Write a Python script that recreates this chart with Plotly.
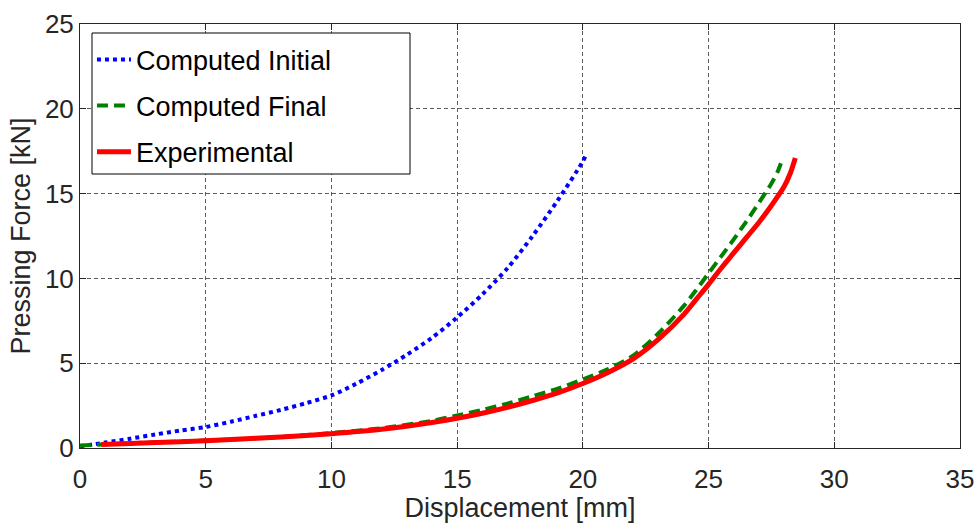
import plotly.graph_objects as go

# Force–displacement curves (displacement in mm, force in kN)
initial_disp = [0, 1, 2, 3, 4, 5, 6, 7, 8, 9, 10, 11, 12, 13, 14, 15,
                16, 17, 18, 19, 20, 20.1]
initial_force = [0.1, 0.32, 0.55, 0.8, 1.03, 1.24, 1.55, 1.9, 2.25, 2.65, 3.1,
                 3.8, 4.6, 5.5, 6.5, 7.7, 9.05, 10.6, 12.5, 14.6, 16.9, 17.2]

final_disp = [0, 1, 2, 4, 6, 8, 10, 12, 14, 15, 16, 17, 18, 19, 20, 21, 22,
              23, 24, 24.5, 25, 25.5, 26, 26.5, 27, 27.5, 27.75, 27.95]
final_force = [0.15, 0.22, 0.28, 0.38, 0.5, 0.66, 0.88, 1.17, 1.6, 1.92, 2.25,
               2.62, 3.05, 3.5, 4.05, 4.65, 5.45, 6.75, 8.35, 9.3, 10.3, 11.3,
               12.3, 13.35, 14.45, 15.6, 16.3, 17.1]

exp_disp = [0.85, 2, 4, 6, 8, 10, 12, 14, 15, 16, 17, 18, 19, 20, 21, 22, 23,
            24, 24.5, 25, 25.5, 26, 26.5, 27, 27.5, 28, 28.25, 28.45]
exp_force = [0.2, 0.27, 0.37, 0.5, 0.65, 0.84, 1.1, 1.5, 1.75, 2.05, 2.4, 2.8,
             3.25, 3.8, 4.45, 5.25, 6.4, 7.85, 8.75, 9.65, 10.6, 11.5, 12.4,
             13.3, 14.3, 15.4, 16.2, 17.1]

x_ticks = [0, 5, 10, 15, 20, 25, 30, 35]
y_ticks = [0, 5, 10, 15, 20, 25]

FONT = "Arial, Liberation Sans, Helvetica, sans-serif"
AXIS_COLOR = "#262626"
GRID_COLOR = "rgba(38,38,38,0.75)"

fig = go.Figure()
fig.add_trace(go.Scatter(
    x=initial_disp, y=initial_force, mode="lines", name="Computed Initial",
    legendgroup="a",
    line=dict(color="#0000ff", width=4, dash="4px,4px", shape="spline",
              smoothing=0.8)))
fig.add_trace(go.Scatter(
    x=final_disp, y=final_force, mode="lines", name="Computed Final",
    legendgroup="b",
    line=dict(color="#008000", width=4, dash="11px,6px", shape="spline",
              smoothing=0.8)))
fig.add_trace(go.Scatter(
    x=exp_disp, y=exp_force, mode="lines", name="Experimental",
    legendgroup="c",
    line=dict(color="#ff0000", width=5, shape="spline", smoothing=0.8)))

axis_common = dict(
    showline=True, linecolor=AXIS_COLOR, linewidth=1, mirror="ticks",
    ticks="inside", ticklen=6, tickcolor=AXIS_COLOR, tickwidth=1,
    showgrid=True, gridcolor=GRID_COLOR, gridwidth=1, griddash="4px,3px",
    zeroline=False, automargin=False,
    tickfont=dict(family=FONT, size=26, color=AXIS_COLOR),
)

fig.update_xaxes(
    range=[0, 35], tickmode="array", tickvals=x_ticks,
    ticktext=[str(v) for v in x_ticks], ticklabelstandoff=8,
    title=dict(text="Displacement [mm]", standoff=14,
               font=dict(family=FONT, size=27, color=AXIS_COLOR)),
    **axis_common)
fig.update_yaxes(
    range=[0, 25], tickmode="array", tickvals=y_ticks,
    ticktext=[str(v) for v in y_ticks],
    title=dict(text="Pressing Force [kN]", standoff=6,
               font=dict(family=FONT, size=27, color=AXIS_COLOR)),
    **axis_common)

# Legend frame (drawn as a shape so the box can be wider than its entries)
fig.add_shape(
    type="rect", xref="paper", yref="paper",
    x0=(92 - 80) / 880, x1=(410 - 80) / 880,
    y0=(448 - 174) / 424, y1=(448 - 33) / 424,
    line=dict(color="black", width=1), fillcolor="white", layer="above")

fig.update_layout(
    width=978, height=523,
    margin=dict(l=80, r=18, t=24, b=75, autoexpand=False),
    paper_bgcolor="white", plot_bgcolor="white",
    font=dict(family=FONT),
    showlegend=True,
    legend=dict(
        x=0.0136, y=0.973, xanchor="left", yanchor="top",
        bgcolor="rgba(0,0,0,0)", borderwidth=0,
        font=dict(family=FONT, size=27, color="black"),
        traceorder="grouped", tracegroupgap=8, itemwidth=34,
    ),
)

fig.write_html("out.html")
